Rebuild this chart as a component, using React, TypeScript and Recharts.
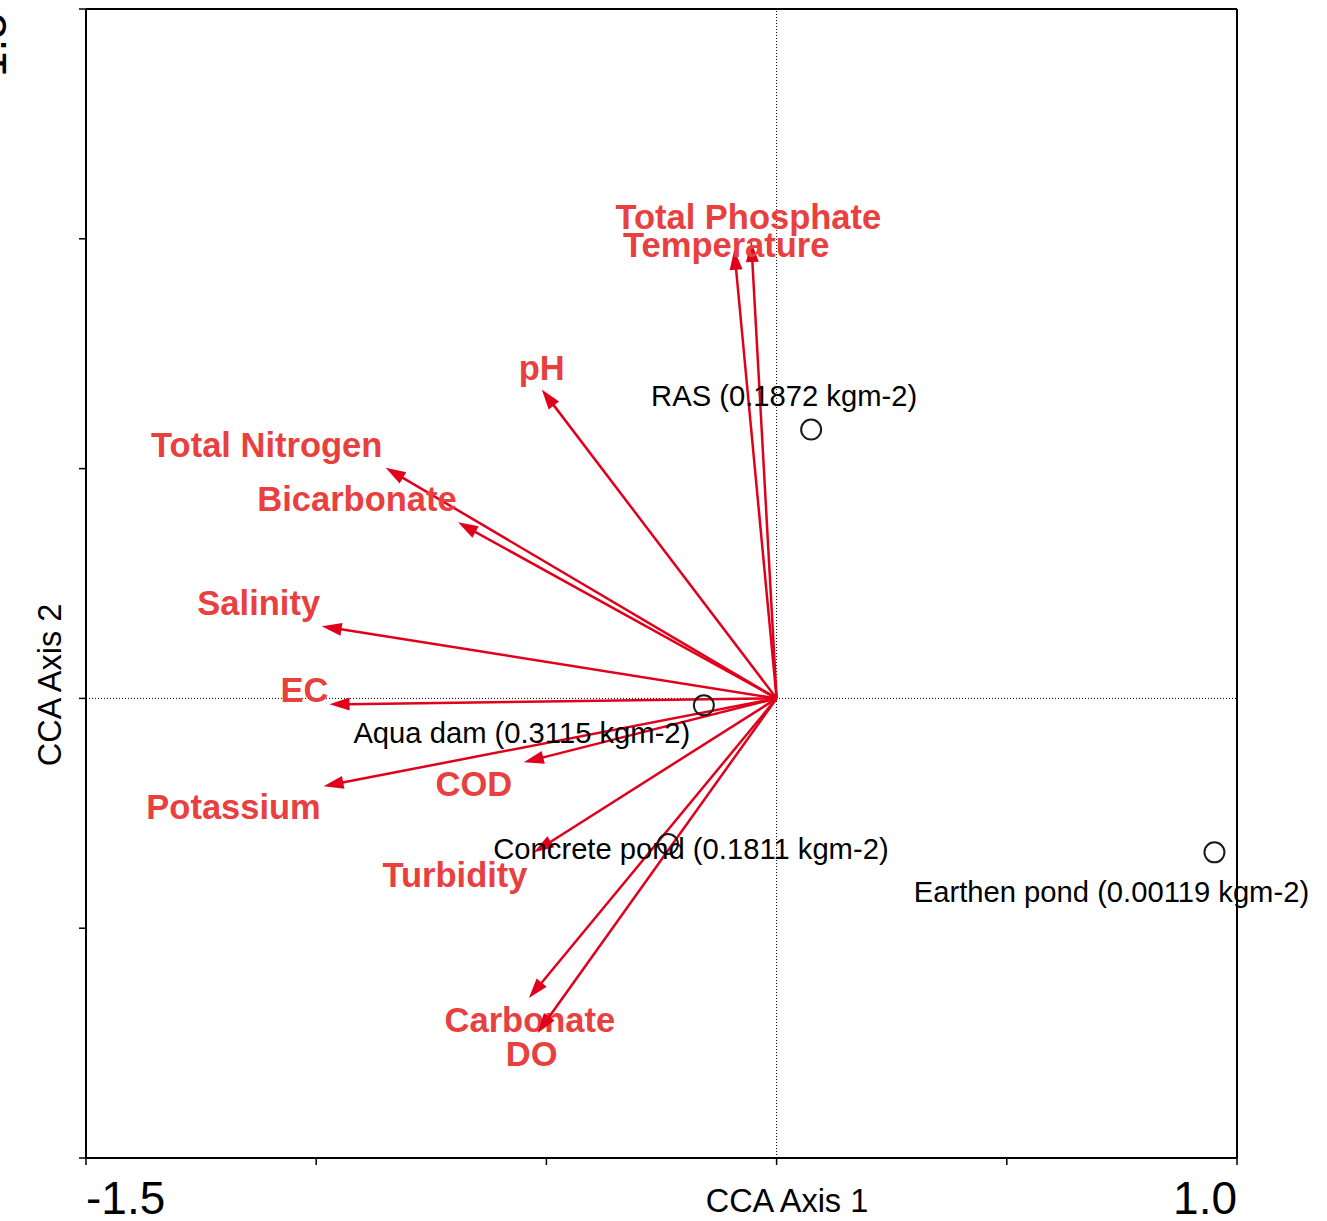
import React from 'react';
import { ScatterChart, Scatter, XAxis, YAxis, ReferenceLine } from 'recharts';

// ---- data ----
const envNames = [
  'Total Phosphate', 'Temperature', 'pH', 'Total Nitrogen', 'Bicarbonate', 'Salinity',
  'EC', 'Potassium', 'COD', 'Turbidity', 'Carbonate', 'DO',
];
const envAxis1 = [-0.055, -0.092, -0.51, -0.849, -0.692, -0.988, -0.971, -0.984, -0.549, -0.527, -0.538, -0.519];
const envAxis2 = [0.993, 0.976, 0.672, 0.502, 0.383, 0.157, -0.013, -0.191, -0.139, -0.335, -0.652, -0.728];

const siteNames = [
  'RAS (0.1872 kgm-2)', 'Aqua dam (0.3115 kgm-2)', 'Concrete pond (0.1811 kgm-2)', 'Earthen pond (0.00119 kgm-2)',
];
const siteAxis1 = [0.075, -0.158, -0.236, 0.951];
const siteAxis2 = [0.585, -0.015, -0.317, -0.335];

const xTicks = [-1.5, -1.0, -0.5, 0, 0.5, 1.0];
const yTicks = [-1.0, -0.5, 0, 0.5, 1.0, 1.5];
const xTickLabels = ['-1.5', '', '', '', '', '1.0'];
const yTickLabels = ['', '', '', '', '', '1.5'];
const axis1Title = 'CCA Axis 1';
const axis2Title = 'CCA Axis 2';

// ---- layout (label offsets in px from the arrow tip / site point) ----
const envLabelOffsets = [
  [-3, -13], [-8, 7], [0, -10], [-119, -11], [-101, -11], [-63, -11],
  [-25, -2], [-90, 33], [-50, 34], [-79, 35], [1, 34], [-6, 33],
];
const siteLabelOffsets = [[-27, -24], [-182, 38], [23, 15], [-103, 50]];

const FONT = '"Liberation Sans", Arial, sans-serif';
const ARROW = '#e0001b';
const ENV_TEXT = '#e8403f';

const siteData = siteNames.map((n, i) => ({ x: siteAxis1[i], y: siteAxis2[i], name: n, idx: i }));

function makeArrow(i: number) {
  return (props: any) => {
    const { x1, y1, x2, y2 } = props;
    const dx = x2 - x1;
    const dy = y2 - y1;
    const len = Math.hypot(dx, dy) || 1;
    const ux = dx / len;
    const uy = dy / len;
    const L = 20;
    const W = 6.5;
    const bx = x2 - ux * L;
    const by = y2 - uy * L;
    const pts = `${x2},${y2} ${bx - uy * W},${by + ux * W} ${bx + uy * W},${by - ux * W}`;
    const off = envLabelOffsets[i];
    return (
      <g>
        <line x1={x1} y1={y1} x2={bx + ux * 2} y2={by + uy * 2} stroke={ARROW} strokeWidth={2.5} />
        <polygon points={pts} fill={ARROW} />
        <text
          x={x2 + off[0]}
          y={y2 + off[1]}
          textAnchor="middle"
          fontFamily={FONT}
          fontWeight="bold"
          fontSize={34.5}
          fill={ENV_TEXT}
        >
          {envNames[i]}
        </text>
      </g>
    );
  };
}

const SiteShape = (props: any) => {
  const { cx, cy, payload } = props;
  const off = siteLabelOffsets[payload.idx];
  return (
    <g>
      <circle cx={cx} cy={cy} r={10} fill="none" stroke="#1a1a1a" strokeWidth={2} />
      <text x={cx + off[0]} y={cy + off[1]} textAnchor="middle" fontFamily={FONT} fontSize={29.2} fill="#000">
        {payload.name}
      </text>
    </g>
  );
};

const XTick = (props: any) => {
  const { x, y, payload } = props;
  const i = xTicks.indexOf(payload.value);
  const t = i >= 0 ? xTickLabels[i] : '';
  if (!t) return <g />;
  const anchor = i === 0 ? 'start' : 'end';
  return (
    <text x={x} y={y + 47} textAnchor={anchor} fontFamily={FONT} fontSize={46} fill="#000">
      {t}
    </text>
  );
};

const YTick = (props: any) => {
  const { y, payload } = props;
  const i = yTicks.indexOf(payload.value);
  const t = i >= 0 ? yTickLabels[i] : '';
  if (!t) return <g />;
  const tx = 6;
  const ty = y + 36;
  return (
    <text x={tx} y={ty} transform={`rotate(-90 ${tx} ${ty})`} textAnchor="middle" fontFamily={FONT} fontSize={46} fill="#000">
      {t}
    </text>
  );
};

const XTitle = (props: any) => {
  const vb = props.viewBox || { x: 86, y: 1158, width: 1151, height: 63 };
  return (
    <text x={vb.x + vb.width * 0.609} y={1212} textAnchor="middle" fontFamily={FONT} fontSize={32.5} fill="#000">
      {axis1Title}
    </text>
  );
};

const YTitle = () => {
  const tx = 61;
  const ty = 685;
  return (
    <text x={tx} y={ty} transform={`rotate(-90 ${tx} ${ty})`} textAnchor="middle" fontFamily={FONT} fontSize={32.5} fill="#000">
      {axis2Title}
    </text>
  );
};

export default function App() {
  return (
    <div>
      <style>{'body{margin:0;overflow:hidden;background:#fff}'}</style>
      <ScatterChart width={1327} height={1221} margin={{ top: 9, right: 90, bottom: 0, left: 0 }}>
        <XAxis
          type="number"
          dataKey="x"
          domain={[-1.5, 1.0]}
          ticks={xTicks}
          height={63}
          tick={<XTick />}
          tickSize={7}
          axisLine={{ stroke: '#000', strokeWidth: 2 }}
          tickLine={{ stroke: '#000', strokeWidth: 1.5 }}
          label={<XTitle />}
        />
        <YAxis
          type="number"
          dataKey="y"
          domain={[-1.0, 1.5]}
          ticks={yTicks}
          width={86}
          tick={<YTick />}
          tickSize={7}
          axisLine={{ stroke: '#000', strokeWidth: 2 }}
          tickLine={{ stroke: '#000', strokeWidth: 1.5 }}
          label={<YTitle />}
        />
        <ReferenceLine y={1.5} stroke="#000" strokeWidth={2} ifOverflow="visible" />
        <ReferenceLine x={1.0} stroke="#000" strokeWidth={2} ifOverflow="visible" />
        <ReferenceLine x={0} stroke="#000" strokeWidth={1} strokeDasharray="1 2" />
        <ReferenceLine y={0} stroke="#000" strokeWidth={1} strokeDasharray="1 2" />
        <Scatter data={siteData} shape={<SiteShape />} isAnimationActive={false} />
        {envNames.map((n, i) => (
          <ReferenceLine
            key={n}
            segment={[{ x: 0, y: 0 }, { x: envAxis1[i], y: envAxis2[i] }]}
            shape={makeArrow(i)}
            ifOverflow="visible"
          />
        ))}
      </ScatterChart>
    </div>
  );
}
